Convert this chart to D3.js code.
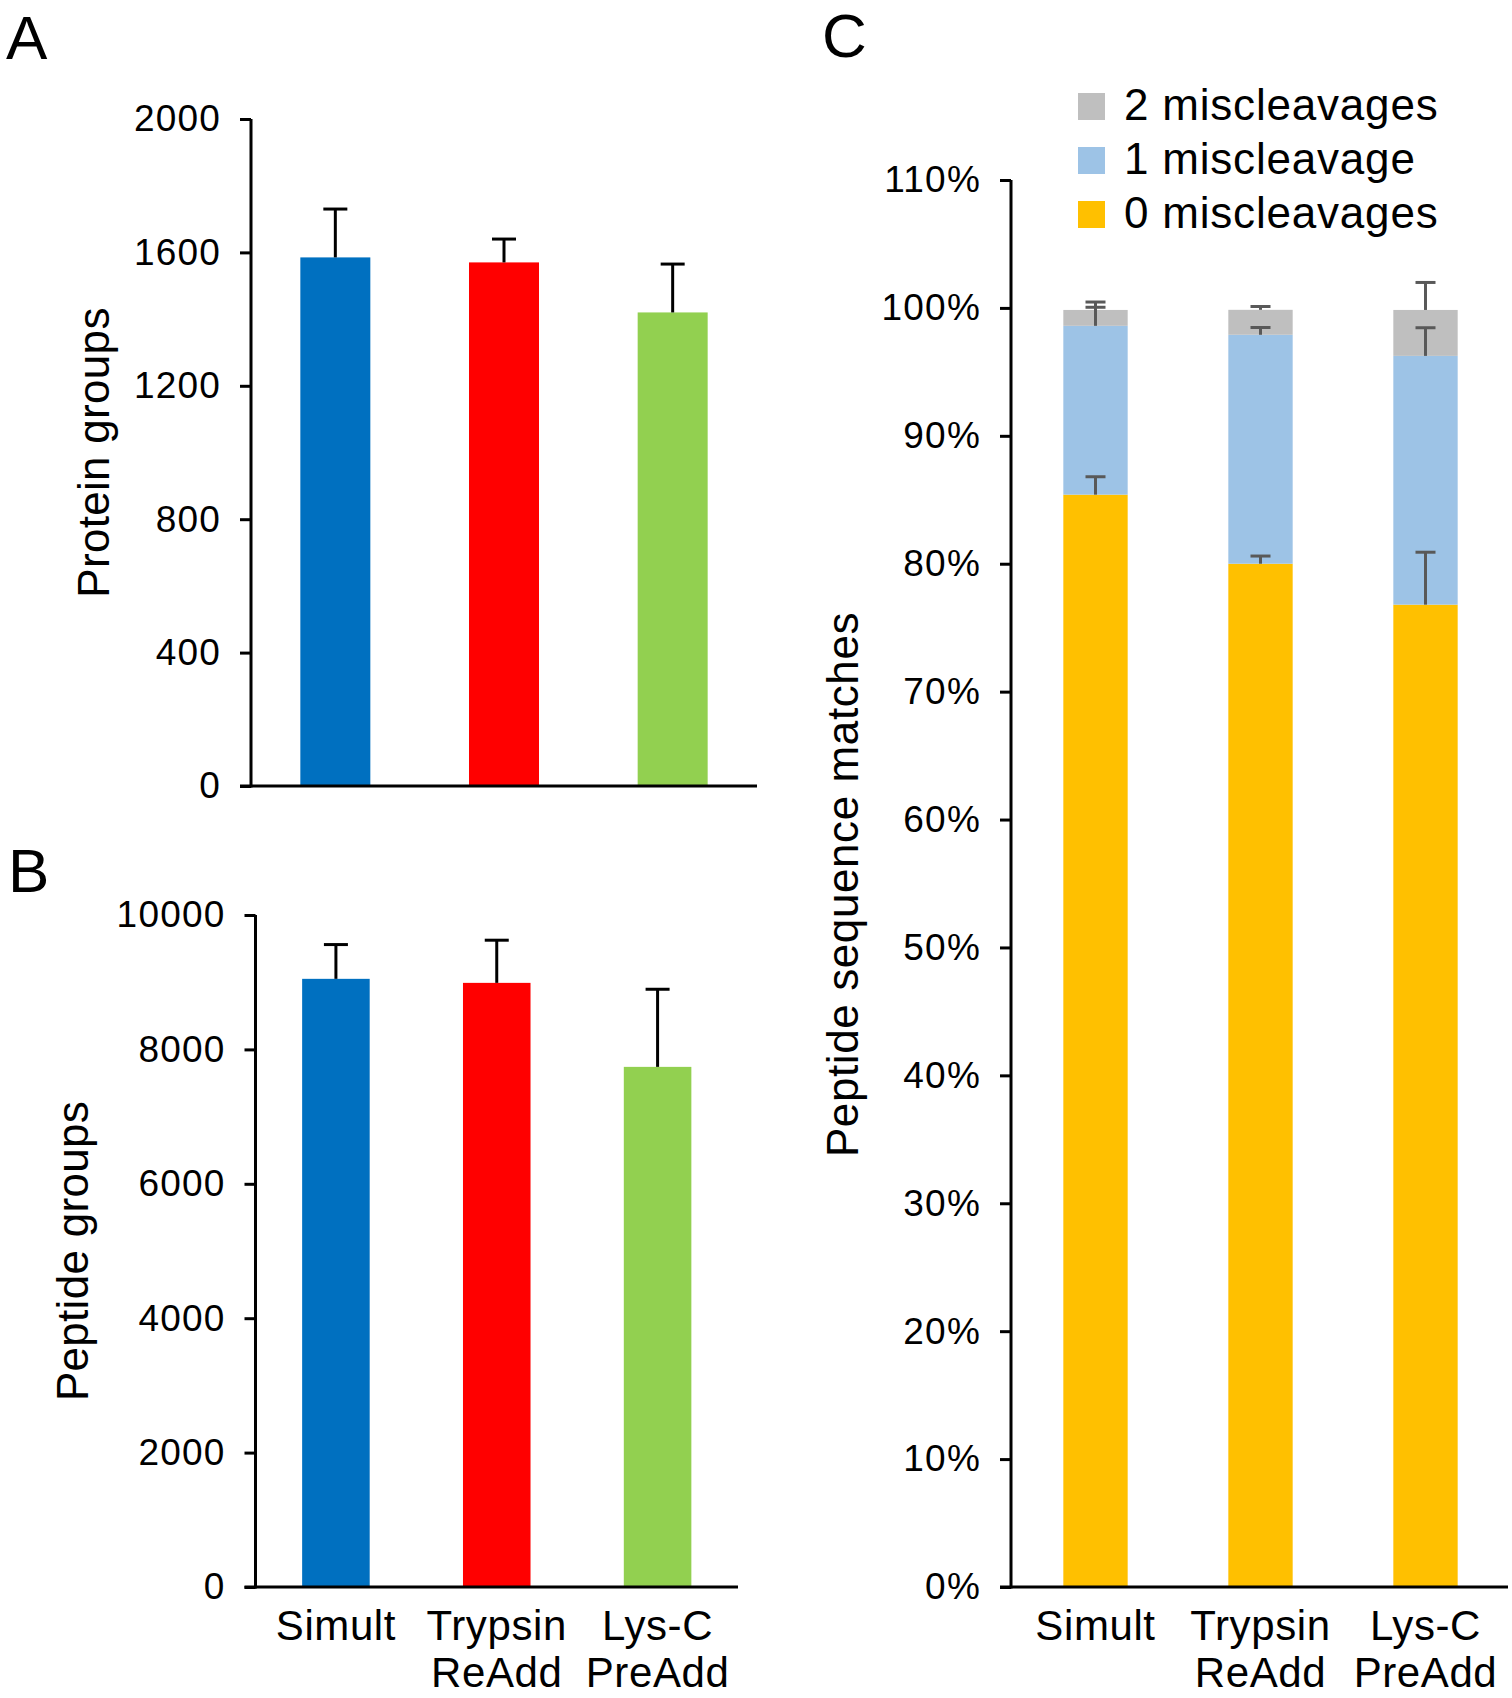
<!DOCTYPE html>
<html>
<head>
<meta charset="utf-8">
<script src="https://cdn.jsdelivr.net/npm/d3@7"></script>
<style>
  html, body { margin: 0; padding: 0; background: #fff; }
  text { font-family: "Liberation Sans", Arial, Helvetica, sans-serif; fill: #000; }
</style>
</head>
<body>
<svg id="chart" width="1512" height="1698"></svg>
<script>
// ---------- data ----------
const categories = ["Simult", "Trypsin ReAdd", "Lys-C PreAdd"];
const categoryLines = [["Simult"], ["Trypsin", "ReAdd"], ["Lys-C", "PreAdd"]];
const barColors = ["#0070C0", "#FF0000", "#92D050"];

const proteinGroups = [1585, 1570, 1420];
const proteinErr = [145, 70, 145];
const proteinTicks = [0, 400, 800, 1200, 1600, 2000];

const peptideGroups = [9050, 8990, 7740];
const peptideErr = [510, 635, 1155];
const peptideTicks = [0, 2000, 4000, 6000, 8000, 10000];

const mis0 = [85.4, 80.0, 76.8];
const mis1 = [13.2, 17.9, 19.45];
const mis2 = [1.24, 1.95, 3.59];
const mis0Err = [1.4, 0.6, 4.1];
const mis1Err = [1.45, 0.57, 2.2];
const mis2Err = [0.62, 0.26, 2.15];
const seriesNames = ["0 miscleavages", "1 miscleavage", "2 miscleavages"];
const seriesColors = ["#FFC000", "#9DC3E6", "#BFBFBF"];
const pctTicks = [0, 10, 20, 30, 40, 50, 60, 70, 80, 90, 100, 110];

// ---------- drawing ----------
const svg = d3.select("#chart");
const TICK_FONT = 37, TITLE_FONT = 44, CAT_FONT = 42, LETTER_FONT = 62;

function drawAxes(g, x, y, ticks, fmt, axisX, axisRight, yTop, yBottom) {
  const ax = g.append("g").attr("transform", `translate(${axisX},0)`)
    .call(d3.axisLeft(y).tickValues(ticks).tickFormat(fmt).tickSize(11).tickPadding(19));
  ax.select(".domain").remove();
  ax.selectAll(".tick line").attr("stroke", "#000").attr("stroke-width", 3);
  ax.selectAll(".tick text").attr("font-size", TICK_FONT).attr("fill", "#000")
    .attr("letter-spacing", 1.2)
    .attr("font-family", '"Liberation Sans", Arial, sans-serif');
  g.append("line").attr("x1", axisX).attr("x2", axisX).attr("y1", yTop).attr("y2", yBottom + 1.5)
    .attr("stroke", "#000").attr("stroke-width", 3);
  g.append("line").attr("x1", axisX - 11).attr("x2", axisRight).attr("y1", yBottom).attr("y2", yBottom)
    .attr("stroke", "#000").attr("stroke-width", 3);
}

function errBar(g, cx, yFrom, yTo, color, cap) {
  g.append("line").attr("x1", cx).attr("x2", cx).attr("y1", yFrom).attr("y2", yTo)
    .attr("stroke", color).attr("stroke-width", 3);
  g.append("line").attr("x1", cx - cap / 2).attr("x2", cx + cap / 2).attr("y1", yTo).attr("y2", yTo)
    .attr("stroke", color).attr("stroke-width", 3);
}

function drawCats(g, x) {
  categories.forEach((c, i) => {
    const cx = x(c) + x.bandwidth() / 2;
    categoryLines[i].forEach((line, j) => {
      g.append("text").attr("x", cx).attr("y", 1640 + j * 47).attr("text-anchor", "middle")
        .attr("font-size", CAT_FONT).attr("letter-spacing", 0.6).text(line);
    });
  });
}

function simplePanel(cfg) {
  const g = svg.append("g");
  const x = d3.scaleBand().domain(categories).range([cfg.axisX, cfg.axisRight])
    .paddingInner(cfg.pad).paddingOuter(cfg.pad / 2);
  const y = d3.scaleLinear().domain([0, cfg.max]).range([cfg.yBottom, cfg.yTop]);
  g.selectAll("rect.bar").data(cfg.values).join("rect")
    .attr("class", "bar")
    .attr("x", (d, i) => x(categories[i]))
    .attr("width", x.bandwidth())
    .attr("y", d => y(d))
    .attr("height", d => y(0) - y(d))
    .attr("fill", (d, i) => barColors[i]);
  cfg.values.forEach((v, i) => {
    const cx = x(categories[i]) + x.bandwidth() / 2;
    errBar(g, cx, y(v), y(v + cfg.err[i]), "#000", 24);
  });
  drawAxes(g, x, y, cfg.ticks, d => d, cfg.axisX, cfg.axisRight, cfg.yTop, cfg.yBottom);
  g.append("text").attr("transform", `translate(${cfg.titleX},${(cfg.yTop + cfg.yBottom) / 2}) rotate(-90)`)
    .attr("text-anchor", "middle").attr("dy", "0.35em").attr("font-size", TITLE_FONT)
    .attr("letter-spacing", 0.3).text(cfg.title);
  g.append("text").attr("x", cfg.letterX).attr("y", cfg.letterY).attr("font-size", LETTER_FONT).text(cfg.letter);
  if (cfg.catLabels) drawCats(g, x);
}

// Panel A
simplePanel({
  values: proteinGroups, err: proteinErr, ticks: proteinTicks, max: 2000,
  axisX: 251, axisRight: 757, yTop: 119, yBottom: 786, pad: 0.585,
  title: "Protein groups", titleX: 94, letter: "A", letterX: 6, letterY: 59, catLabels: false
});

// Panel B
simplePanel({
  values: peptideGroups, err: peptideErr, ticks: peptideTicks, max: 10000,
  axisX: 255.5, axisRight: 738, yTop: 915, yBottom: 1587, pad: 0.58,
  title: "Peptide groups", titleX: 73, letter: "B", letterX: 8, letterY: 892, catLabels: true
});

// Panel C
(function () {
  const g = svg.append("g");
  const axisX = 1011, axisRight = 1508, yTop = 180, yBottom = 1587;
  const x = d3.scaleBand().domain(categories).range([axisX + 2, axisRight])
    .paddingInner(0.61).paddingOuter(0.305);
  const y = d3.scaleLinear().domain([0, 110]).range([yBottom, yTop]);
  const rows = categories.map((c, i) => ({ cat: c, m0: mis0[i], m1: mis1[i], m2: mis2[i] }));
  const stack = d3.stack().keys(["m0", "m1", "m2"])(rows);
  const errs = [mis0Err, mis1Err, mis2Err];
  stack.forEach((layer, k) => {
    g.selectAll(null).data(layer).join("rect")
      .attr("x", d => x(d.data.cat))
      .attr("width", x.bandwidth())
      .attr("y", d => y(d[1]))
      .attr("height", d => y(d[0]) - y(d[1]))
      .attr("fill", seriesColors[k]);
  });
  stack.forEach((layer, k) => {
    layer.forEach((d, i) => {
      const cx = x(d.data.cat) + x.bandwidth() / 2;
      errBar(g, cx, y(d[1]), y(d[1] + errs[k][i]), "#595959", 20);
    });
  });
  drawAxes(g, x, y, pctTicks, d => d + "%", axisX, axisRight, yTop, yBottom);
  g.append("text").attr("transform", `translate(843,${(yTop + yBottom) / 2 + 1}) rotate(-90)`)
    .attr("text-anchor", "middle").attr("dy", "0.35em").attr("font-size", TITLE_FONT)
    .attr("letter-spacing", 0.6)
    .text("Peptide sequence matches");
  g.append("text").attr("x", 822).attr("y", 57).attr("font-size", LETTER_FONT).text("C");
  drawCats(g, x);

  // legend (top to bottom: 2, 1, 0)
  const legendOrder = [2, 1, 0];
  legendOrder.forEach((k, r) => {
    const base = 120 + r * 54;
    g.append("rect").attr("x", 1078).attr("y", base - 27).attr("width", 27).attr("height", 27)
      .attr("fill", seriesColors[k]);
    g.append("text").attr("x", 1124).attr("y", base).attr("font-size", 44)
      .attr("letter-spacing", 0.8).text(seriesNames[k]);
  });
})();
</script>
</body>
</html>
